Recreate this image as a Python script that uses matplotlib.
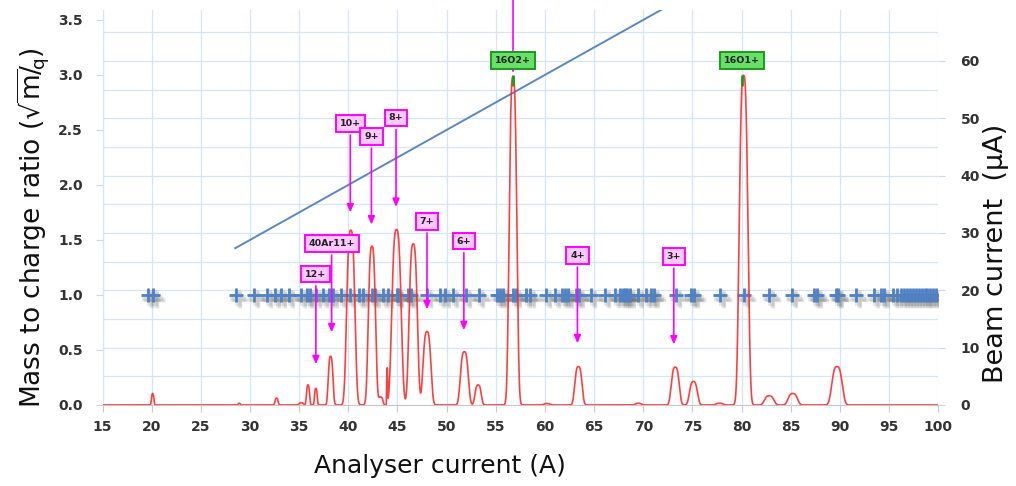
import numpy as np
import matplotlib
matplotlib.use('Agg')
import matplotlib.pyplot as plt
import matplotlib.transforms as mtransforms

# --- data ---
# beam current peaks: centre (A), height (uA), width
peak_pos = [20.1, 28.9, 32.7, 35.2, 35.9, 36.7, 38.2, 40.25, 42.4, 43.3, 43.95, 44.9, 46.6, 48.0,
            51.8, 53.2, 56.75, 60.2, 63.4, 69.5, 73.25, 75.1, 77.75, 80.2, 82.8, 85.2, 89.7]
peak_height = [2.0, 0.3, 1.2, 0.4, 3.5, 2.9, 8.5, 30.5, 27.7, 1.4, 6.2, 30.6, 28.1, 12.8,
               9.3, 3.5, 57.3, 0.25, 6.7, 0.3, 6.6, 4.1, 0.3, 57.5, 1.6, 2.0, 6.7]
peak_width = [0.12, 0.1, 0.15, 0.2, 0.15, 0.13, 0.23, 0.4, 0.35, 0.2, 0.05, 0.45, 0.4, 0.38,
              0.38, 0.3, 0.37, 0.3, 0.35, 0.3, 0.38, 0.38, 0.35, 0.42, 0.45, 0.45, 0.5]

# calibration line (mass to charge vs analyser current)
calib_x = [28.5, 72.0]
calib_y = [1.425, 3.6]

# measured points at m/q = 1
marker_x = [19.65, 20.1, 28.6, 30.4, 31.7, 32.5, 33.2, 34.0, 35.2, 35.75, 36.1, 36.7, 37.4, 38.05,
            38.4, 39.3, 40.15, 41.1, 41.5, 42.4, 42.7, 43.5, 44.0, 44.9, 45.1, 46.1, 46.4, 48.0,
            49.3, 49.8, 50.65, 52.0, 53.3, 55.1, 55.4, 55.7, 56.7, 57.1, 58.1, 58.45, 60.1, 61.0,
            61.7, 62.0, 62.3, 63.2, 63.5, 64.7, 66.1, 67.1, 67.6, 67.9, 68.1, 68.3, 68.6, 69.45,
            70.3, 70.8, 71.05, 73.3, 74.9, 75.2, 77.75, 80.2, 82.8, 85.1, 87.4, 87.7, 89.6, 89.8,
            91.6, 93.5, 94.2, 94.5, 95.4, 95.8, 96.2, 96.5, 96.8, 97.1, 97.4, 97.7, 98.0, 98.3,
            98.6, 98.9, 99.2, 99.5, 99.8]
marker_y = [1.0] * len(marker_x)

# charge state labels
label_text = ['10+', '9+', '8+', '7+', '6+', '40Ar11+', '12+', '4+', '3+']
label_x = [40.2, 42.35, 44.85, 48.0, 51.75, 38.3, 36.7, 63.3, 73.1]
label_y = [2.56, 2.44, 2.61, 1.67, 1.49, 1.47, 1.19, 1.36, 1.35]
tip_y = [1.75, 1.64, 1.80, 0.87, 0.68, 0.66, 0.37, 0.56, 0.55]

oxy_text = ['16O2+', '16O1+']
oxy_x = [56.75, 80.05]
oxy_y = [3.13, 3.13]

x_ticks = list(range(15, 101, 5))
left_ticks = [0.0, 0.5, 1.0, 1.5, 2.0, 2.5, 3.0, 3.5]
right_ticks = [0, 10, 20, 30, 40, 50, 60]

# --- figure ---
fig = plt.figure(figsize=(10.16, 4.86), dpi=100)
ax = fig.add_axes([0.1009, 0.1667, 0.8226, 0.8128])
ax2 = ax.twinx()
ax.set_zorder(2)
ax2.set_zorder(1)
ax.patch.set_visible(False)

grid_c = '#d3e5f8'
ax.set_xlim(15, 100)
ax.set_ylim(0, 3.59)
ax2.set_ylim(0, 68.9)

ax.set_xticks(x_ticks)
ax.set_yticks(left_ticks)
ax.set_yticklabels(['%.1f' % v for v in left_ticks])
ax2.set_yticks(right_ticks)
ax2.set_yticks(list(range(5, 70, 10)), minor=True)
ax.grid(axis='x', color=grid_c, lw=0.9)
ax2.grid(axis='y', which='both', color=grid_c, lw=0.9)
ax.set_axisbelow(True)

for a in (ax, ax2):
    for s in a.spines.values():
        s.set_visible(False)
ax.spines['left'].set_visible(True)
ax.spines['left'].set_color(grid_c)
ax.spines['bottom'].set_visible(True)
ax.spines['bottom'].set_color('#c8c8c8')

ax.tick_params(axis='x', length=5, color='#c8c8c8', pad=6)
ax.tick_params(axis='y', length=5, color='#c8d8ea', pad=9)
ax2.tick_params(axis='y', which='major', length=5, color='#c8d8ea', pad=11)
ax2.tick_params(axis='y', which='minor', length=0)
for lab in ax.get_xticklabels() + ax.get_yticklabels() + ax2.get_yticklabels():
    lab.set_fontsize(10)
    lab.set_fontweight('bold')
    lab.set_color('#333333')

# calibration line
ax.plot(calib_x, calib_y, color='#5b88c0', lw=1.4, zorder=3)

# markers with a soft shadow (a few faint offset copies)
for dx, dy, mw in [(2, -3, 4.5), (3, -4, 3.5), (4, -5, 2.5)]:
    shadow = mtransforms.offset_copy(ax.transData, fig=fig, x=dx, y=dy, units='dots')
    ax.plot(marker_x, marker_y, ls='none', marker='+', ms=11, mew=mw, color='#606060',
            alpha=0.13, transform=shadow, zorder=3)
ax.plot(marker_x, marker_y, ls='none', marker='+', ms=10, mew=2.0, color='#4f81c4', zorder=4)

# beam current trace (right axis)
xs = np.linspace(15, 100, 6000)
trace = np.zeros_like(xs)
for c, h, w in zip(peak_pos, peak_height, peak_width):
    trace += h * np.exp(-0.5 * np.abs((xs - c) / w) ** 3)
ax.plot(xs, trace, color='#ff2a2a', lw=1.2, alpha=0.9, transform=ax2.transData, zorder=5)

# charge state annotations
for t, x, y, ty in zip(label_text, label_x, label_y, tip_y):
    ax.annotate(t, xy=(x, ty), xytext=(x, y), ha='center', va='center',
                fontsize=6.8, fontweight='bold', color='#222222',
                bbox=dict(boxstyle='square,pad=0.4', fc='#ffc8ff', ec='#ff00ff', lw=1.4),
                arrowprops=dict(arrowstyle='-|>,head_length=0.7,head_width=0.3', color='#ff00ff',
                                lw=1.2, shrinkA=2, shrinkB=0),
                zorder=7)

# oxygen peaks
ax.annotate('', xy=(oxy_x[0], 3.02), xytext=(oxy_x[0], 3.75),
            arrowprops=dict(arrowstyle='-|>,head_length=0.5,head_width=0.25', color='#ff00ff',
                            lw=1.2, shrinkA=0, shrinkB=0),
            annotation_clip=False, zorder=6)
for t, x, y in zip(oxy_text, oxy_x, oxy_y):
    ax.vlines(x, 2.9, 3.0, color='#1f9a1f', lw=2.0, zorder=6)
    ax.text(x, y, t, ha='center', va='center', fontsize=6.8, fontweight='bold', color='#222222',
            bbox=dict(boxstyle='square,pad=0.4', fc='#66e066', ec='#1e9a1e', lw=1.4), zorder=8)

# axis labels
plt.rcParams['mathtext.fontset'] = 'dejavusans'
ax.set_xlabel('Analyser current (A)', fontsize=18, color='#111111')
ax.xaxis.set_label_coords(0.404, -0.125)
ax.set_ylabel(r'Mass to charge ratio ($\sqrt{\mathrm{m}}\!/\!_{\mathrm{q}}$)', fontsize=19, color='#111111')
ax.yaxis.set_label_coords(-0.062, 0.45)
ax2.set_ylabel('Beam current  (\u00b5A)', fontsize=19.5, color='#111111')
ax2.yaxis.set_label_coords(1.054, 0.385)

plt.savefig('out.png', dpi=100)
